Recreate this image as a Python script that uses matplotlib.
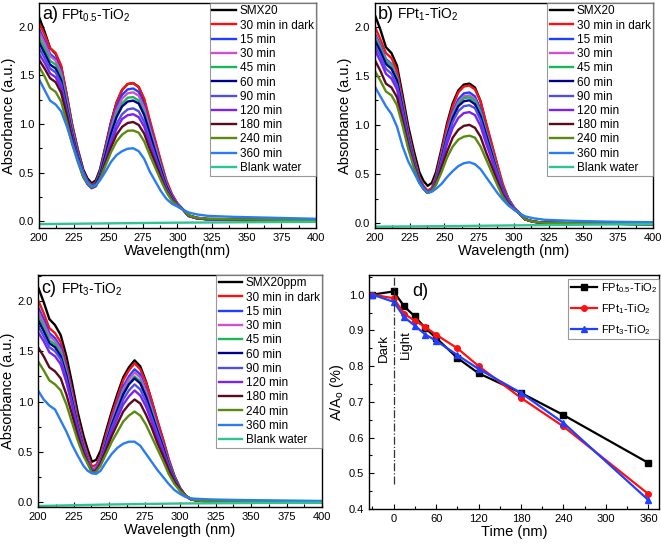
import numpy as np
import matplotlib
matplotlib.use("Agg")
from matplotlib import pyplot as plt
from matplotlib.ticker import MultipleLocator

plt.rcParams['font.family'] = ['Liberation Sans', 'DejaVu Sans']
plt.rcParams['mathtext.fontset'] = 'custom'
plt.rcParams['mathtext.rm'] = 'Liberation Sans'
plt.rcParams['mathtext.it'] = 'Liberation Sans:italic'

# ---- data ----
wl = [200, 204, 208, 212, 216, 220, 224, 228, 232, 235, 238, 241, 244, 248, 252, 256, 260,
      264, 268, 272, 276, 280, 284, 288, 292, 296, 300, 304, 308, 314, 322, 340, 370, 400]

labels_ab = ['SMX20', '30 min in dark', '15 min', '30 min', '45 min', '60 min',
             '90 min', '120 min', '180 min', '240 min', '360 min']
labels_c = ['SMX20ppm'] + labels_ab[1:]

abs_a = [
    [2.10, 1.95, 1.78, 1.72, 1.59, 1.30, 0.99, 0.74, 0.53, 0.44, 0.39, 0.42, 0.53, 0.77, 1.02, 1.22, 1.35, 1.41, 1.42, 1.38, 1.24, 1.02, 0.81, 0.60, 0.40, 0.27, 0.18, 0.12, 0.06, 0.035, 0.02, 0.015, 0.01, 0.005],
    [2.04, 1.92, 1.78, 1.73, 1.60, 1.30, 0.98, 0.73, 0.51, 0.42, 0.37, 0.40, 0.51, 0.76, 1.01, 1.22, 1.35, 1.41, 1.42, 1.38, 1.26, 1.04, 0.83, 0.62, 0.42, 0.28, 0.18, 0.12, 0.055, 0.03, 0.02, 0.015, 0.01, 0.005],
    [1.98, 1.86, 1.72, 1.67, 1.54, 1.26, 0.95, 0.71, 0.50, 0.41, 0.36, 0.39, 0.50, 0.73, 0.98, 1.17, 1.30, 1.355, 1.365, 1.33, 1.19, 0.98, 0.78, 0.58, 0.39, 0.26, 0.18, 0.12, 0.055, 0.03, 0.02, 0.015, 0.01, 0.005],
    [1.95, 1.83, 1.70, 1.65, 1.52, 1.24, 0.94, 0.69, 0.49, 0.40, 0.35, 0.38, 0.48, 0.71, 0.95, 1.14, 1.26, 1.315, 1.325, 1.29, 1.16, 0.95, 0.76, 0.56, 0.38, 0.26, 0.18, 0.12, 0.055, 0.03, 0.02, 0.015, 0.01, 0.005],
    [1.89, 1.78, 1.65, 1.61, 1.49, 1.21, 0.92, 0.68, 0.48, 0.40, 0.35, 0.38, 0.48, 0.69, 0.92, 1.10, 1.21, 1.27, 1.276, 1.24, 1.12, 0.92, 0.73, 0.55, 0.37, 0.25, 0.17, 0.12, 0.055, 0.03, 0.02, 0.015, 0.01, 0.005],
    [1.84, 1.73, 1.61, 1.57, 1.45, 1.18, 0.90, 0.67, 0.48, 0.40, 0.35, 0.38, 0.47, 0.68, 0.90, 1.07, 1.18, 1.23, 1.24, 1.21, 1.09, 0.90, 0.71, 0.53, 0.36, 0.25, 0.17, 0.12, 0.055, 0.03, 0.02, 0.015, 0.01, 0.005],
    [1.78, 1.68, 1.57, 1.53, 1.41, 1.15, 0.88, 0.65, 0.47, 0.39, 0.34, 0.36, 0.45, 0.64, 0.84, 1.00, 1.10, 1.15, 1.16, 1.13, 1.02, 0.84, 0.67, 0.50, 0.34, 0.24, 0.17, 0.12, 0.055, 0.03, 0.02, 0.015, 0.01, 0.005],
    [1.72, 1.63, 1.52, 1.48, 1.37, 1.12, 0.85, 0.64, 0.46, 0.38, 0.34, 0.36, 0.44, 0.62, 0.81, 0.95, 1.05, 1.09, 1.10, 1.07, 0.97, 0.80, 0.64, 0.48, 0.33, 0.23, 0.17, 0.12, 0.055, 0.03, 0.02, 0.015, 0.01, 0.005],
    [1.66, 1.57, 1.47, 1.43, 1.32, 1.09, 0.84, 0.63, 0.46, 0.39, 0.35, 0.37, 0.44, 0.60, 0.76, 0.89, 0.97, 1.01, 1.02, 0.99, 0.90, 0.74, 0.60, 0.45, 0.31, 0.22, 0.16, 0.12, 0.06, 0.035, 0.025, 0.02, 0.015, 0.01],
    [1.59, 1.49, 1.37, 1.33, 1.23, 1.02, 0.79, 0.61, 0.45, 0.39, 0.35, 0.37, 0.43, 0.57, 0.71, 0.82, 0.89, 0.93, 0.933, 0.91, 0.82, 0.68, 0.55, 0.42, 0.30, 0.21, 0.16, 0.12, 0.06, 0.035, 0.025, 0.02, 0.015, 0.01],
    [1.46, 1.35, 1.24, 1.20, 1.13, 0.98, 0.80, 0.63, 0.48, 0.40, 0.36, 0.37, 0.42, 0.51, 0.61, 0.68, 0.72, 0.745, 0.75, 0.72, 0.64, 0.51, 0.41, 0.31, 0.23, 0.18, 0.15, 0.12, 0.09, 0.07, 0.055, 0.045, 0.035, 0.025],
]

abs_b = [
    [2.12, 1.97, 1.79, 1.73, 1.60, 1.30, 0.99, 0.74, 0.52, 0.43, 0.38, 0.41, 0.52, 0.76, 1.02, 1.22, 1.35, 1.41, 1.42, 1.38, 1.24, 1.01, 0.80, 0.59, 0.38, 0.25, 0.16, 0.10, 0.04, 0.015, 0.005, 0.0, -0.005, -0.01],
    [2.00, 1.87, 1.73, 1.68, 1.55, 1.25, 0.94, 0.69, 0.47, 0.38, 0.33, 0.36, 0.48, 0.73, 0.99, 1.19, 1.33, 1.39, 1.40, 1.36, 1.24, 1.02, 0.81, 0.60, 0.40, 0.25, 0.16, 0.10, 0.04, 0.015, 0.005, 0.0, -0.005, -0.01],
    [1.93, 1.81, 1.67, 1.62, 1.49, 1.21, 0.90, 0.66, 0.45, 0.36, 0.31, 0.34, 0.45, 0.69, 0.93, 1.13, 1.26, 1.32, 1.33, 1.29, 1.16, 0.95, 0.75, 0.55, 0.36, 0.24, 0.16, 0.10, 0.04, 0.015, 0.005, 0.0, -0.005, -0.01],
    [1.91, 1.79, 1.66, 1.61, 1.48, 1.20, 0.90, 0.65, 0.45, 0.36, 0.31, 0.34, 0.45, 0.68, 0.92, 1.11, 1.23, 1.29, 1.30, 1.26, 1.13, 0.93, 0.74, 0.54, 0.36, 0.24, 0.16, 0.10, 0.04, 0.015, 0.005, 0.0, -0.005, -0.01],
    [1.89, 1.78, 1.65, 1.60, 1.47, 1.19, 0.89, 0.65, 0.45, 0.36, 0.31, 0.34, 0.44, 0.67, 0.90, 1.09, 1.21, 1.27, 1.28, 1.24, 1.12, 0.92, 0.73, 0.54, 0.35, 0.24, 0.15, 0.10, 0.04, 0.015, 0.005, 0.0, -0.005, -0.01],
    [1.86, 1.75, 1.62, 1.57, 1.45, 1.17, 0.88, 0.64, 0.44, 0.36, 0.31, 0.34, 0.44, 0.66, 0.89, 1.07, 1.19, 1.24, 1.25, 1.21, 1.09, 0.90, 0.71, 0.52, 0.35, 0.23, 0.15, 0.10, 0.04, 0.015, 0.005, 0.0, -0.005, -0.01],
    [1.81, 1.70, 1.57, 1.52, 1.40, 1.14, 0.86, 0.63, 0.44, 0.36, 0.31, 0.34, 0.43, 0.64, 0.86, 1.03, 1.14, 1.19, 1.20, 1.17, 1.05, 0.86, 0.68, 0.51, 0.34, 0.23, 0.15, 0.10, 0.04, 0.015, 0.005, 0.0, -0.005, -0.01],
    [1.76, 1.65, 1.52, 1.47, 1.36, 1.10, 0.83, 0.62, 0.43, 0.35, 0.31, 0.33, 0.42, 0.61, 0.81, 0.97, 1.07, 1.12, 1.13, 1.10, 0.99, 0.81, 0.65, 0.48, 0.32, 0.22, 0.15, 0.10, 0.04, 0.015, 0.005, 0.0, -0.005, -0.01],
    [1.66, 1.55, 1.42, 1.38, 1.28, 1.04, 0.79, 0.59, 0.42, 0.35, 0.31, 0.33, 0.40, 0.57, 0.73, 0.87, 0.95, 0.99, 1.00, 0.97, 0.88, 0.72, 0.58, 0.43, 0.29, 0.20, 0.14, 0.10, 0.04, 0.015, 0.005, 0.0, -0.005, -0.01],
    [1.55, 1.45, 1.34, 1.30, 1.20, 0.99, 0.76, 0.57, 0.41, 0.35, 0.31, 0.33, 0.39, 0.52, 0.67, 0.78, 0.85, 0.88, 0.89, 0.87, 0.78, 0.65, 0.52, 0.39, 0.27, 0.19, 0.14, 0.10, 0.04, 0.015, 0.005, 0.0, -0.005, -0.01],
    [1.39, 1.29, 1.19, 1.11, 0.98, 0.78, 0.63, 0.52, 0.41, 0.35, 0.31, 0.32, 0.35, 0.40, 0.47, 0.53, 0.58, 0.61, 0.62, 0.60, 0.55, 0.47, 0.39, 0.31, 0.24, 0.18, 0.14, 0.10, 0.07, 0.05, 0.035, 0.025, 0.015, 0.01],
]

abs_c = [
    [2.14, 1.99, 1.82, 1.76, 1.66, 1.45, 1.18, 0.89, 0.66, 0.52, 0.40, 0.42, 0.51, 0.71, 0.905, 1.08, 1.24, 1.34, 1.41, 1.35, 1.20, 1.01, 0.81, 0.62, 0.42, 0.26, 0.14, 0.06, 0.025, 0.012, 0.006, 0.004, 0.002, 0.0],
    [2.01, 1.88, 1.73, 1.68, 1.59, 1.37, 1.11, 0.83, 0.60, 0.47, 0.35, 0.37, 0.46, 0.67, 0.87, 1.04, 1.21, 1.31, 1.38, 1.32, 1.19, 1.01, 0.81, 0.63, 0.43, 0.26, 0.14, 0.06, 0.025, 0.012, 0.006, 0.004, 0.002, 0.0],
    [1.94, 1.82, 1.68, 1.63, 1.54, 1.33, 1.07, 0.79, 0.57, 0.44, 0.32, 0.34, 0.43, 0.63, 0.82, 0.99, 1.15, 1.25, 1.32, 1.27, 1.12, 0.95, 0.76, 0.58, 0.40, 0.25, 0.13, 0.06, 0.025, 0.012, 0.006, 0.004, 0.002, 0.0],
    [1.90, 1.78, 1.65, 1.60, 1.51, 1.30, 1.05, 0.77, 0.56, 0.43, 0.31, 0.33, 0.42, 0.61, 0.80, 0.97, 1.12, 1.22, 1.29, 1.24, 1.10, 0.93, 0.74, 0.57, 0.39, 0.24, 0.13, 0.06, 0.025, 0.012, 0.006, 0.004, 0.002, 0.0],
    [1.85, 1.74, 1.61, 1.57, 1.48, 1.28, 1.02, 0.76, 0.54, 0.41, 0.30, 0.32, 0.40, 0.59, 0.78, 0.94, 1.09, 1.18, 1.25, 1.20, 1.06, 0.90, 0.72, 0.55, 0.38, 0.24, 0.13, 0.06, 0.025, 0.012, 0.006, 0.004, 0.002, 0.0],
    [1.81, 1.70, 1.58, 1.54, 1.45, 1.26, 1.01, 0.75, 0.54, 0.41, 0.30, 0.32, 0.40, 0.59, 0.77, 0.92, 1.07, 1.17, 1.23, 1.18, 1.05, 0.88, 0.71, 0.55, 0.37, 0.23, 0.13, 0.06, 0.025, 0.012, 0.006, 0.004, 0.002, 0.0],
    [1.75, 1.65, 1.54, 1.50, 1.42, 1.22, 0.98, 0.73, 0.53, 0.41, 0.30, 0.32, 0.40, 0.57, 0.74, 0.88, 1.02, 1.11, 1.17, 1.12, 1.00, 0.84, 0.68, 0.52, 0.36, 0.22, 0.13, 0.06, 0.025, 0.012, 0.006, 0.004, 0.002, 0.0],
    [1.69, 1.60, 1.49, 1.45, 1.37, 1.19, 0.96, 0.71, 0.52, 0.40, 0.30, 0.32, 0.39, 0.55, 0.71, 0.84, 0.97, 1.05, 1.11, 1.06, 0.95, 0.80, 0.64, 0.50, 0.34, 0.22, 0.12, 0.06, 0.025, 0.012, 0.006, 0.004, 0.002, 0.0],
    [1.54, 1.45, 1.34, 1.30, 1.23, 1.07, 0.87, 0.66, 0.49, 0.39, 0.30, 0.31, 0.38, 0.52, 0.66, 0.78, 0.90, 0.97, 1.02, 0.98, 0.87, 0.74, 0.59, 0.46, 0.32, 0.20, 0.12, 0.06, 0.025, 0.012, 0.006, 0.004, 0.002, 0.0],
    [1.40, 1.31, 1.21, 1.17, 1.11, 0.97, 0.79, 0.61, 0.46, 0.38, 0.29, 0.30, 0.36, 0.48, 0.60, 0.70, 0.80, 0.86, 0.90, 0.86, 0.77, 0.65, 0.53, 0.41, 0.28, 0.18, 0.11, 0.06, 0.025, 0.012, 0.006, 0.004, 0.002, 0.0],
    [1.11, 1.02, 0.96, 0.92, 0.81, 0.70, 0.57, 0.46, 0.36, 0.31, 0.285, 0.28, 0.31, 0.40, 0.48, 0.54, 0.58, 0.60, 0.60, 0.56, 0.48, 0.40, 0.32, 0.25, 0.18, 0.12, 0.08, 0.05, 0.035, 0.03, 0.025, 0.02, 0.015, 0.01],
]

wl_blank = [200, 250, 300, 350, 400]
blank_a = [-0.03, -0.022, -0.015, -0.01, -0.006]
blank_b = [-0.035, -0.03, -0.022, -0.015, -0.01]
blank_c = [-0.04, -0.025, -0.015, -0.01, -0.007]

# panel d: relative absorbance vs time
time = [-30, 0, 15, 30, 45, 60, 90, 120, 180, 240, 360]
r_pt05 = [1.0, 1.009, 0.967, 0.939, 0.906, 0.879, 0.823, 0.780, 0.725, 0.663, 0.529]
r_pt1 = [1.0, 0.990, 0.946, 0.927, 0.909, 0.888, 0.850, 0.800, 0.711, 0.631, 0.442]
r_pt3 = [1.0, 0.980, 0.937, 0.913, 0.888, 0.871, 0.831, 0.792, 0.725, 0.641, 0.425]

colors = ['#000000', '#ff1010', '#1f40ff', '#d050d0', '#18b85a', '#000088',
          '#5050e0', '#7b22f0', '#5c0a1e', '#5a8a10', '#2a7cf0']
blank_color = '#2ec48f'


def style_axes(ax):
    for sp in ax.spines.values():
        sp.set_linewidth(1.0)
    ax.tick_params(which='both', direction='in', labelsize=8, width=0.8)
    ax.tick_params(which='major', length=3.5)
    ax.tick_params(which='minor', length=2)


def spectra(ax, rows, labels, blank, ylim, xlabel, tag, name):
    for row, lab, col in zip(rows, labels, colors):
        ax.plot(wl, row, color=col, lw=1.7, label=lab)
    ax.plot(wl_blank, blank, color=blank_color, lw=1.7, label='Blank water')
    ax.set_xlim(200, 400)
    ax.set_ylim(*ylim)
    ax.xaxis.set_major_locator(MultipleLocator(25))
    ax.xaxis.set_minor_locator(MultipleLocator(12.5))
    ax.yaxis.set_major_locator(MultipleLocator(0.5))
    ax.yaxis.set_minor_locator(MultipleLocator(0.25))
    ax.set_xlabel(xlabel, fontsize=10.5, labelpad=1)
    ax.set_ylabel('Absorbance (a.u.)', fontsize=10.5, labelpad=2)
    style_axes(ax)
    ax.text(202, 2.12, tag, fontsize=13, va='center', ha='left')
    ax.text(216, 2.12, name, fontsize=10, va='center', ha='left')
    leg = ax.legend(loc='upper right', fontsize=8.5, frameon=True, fancybox=False,
                    edgecolor='#808080', borderaxespad=0, handlelength=2.0,
                    handletextpad=0.3, labelspacing=0.19, borderpad=0.2)
    leg.get_frame().set_linewidth(0.8)


fig = plt.figure(figsize=(6.61, 5.44), dpi=100)
ax_a = fig.add_axes([0.059, 0.581, 0.419, 0.4136])
ax_b = fig.add_axes([0.567, 0.581, 0.421, 0.4136])
ax_c = fig.add_axes([0.0575, 0.068, 0.4297, 0.4265])
ax_d = fig.add_axes([0.558, 0.0643, 0.439, 0.4302])

spectra(ax_a, abs_a, labels_ab, blank_a, (-0.069, 2.244), 'Wavelength(nm)', 'a)',
        r'FPt$_{0.5}$-TiO$_2$')
spectra(ax_b, abs_b, labels_ab, blank_b, (-0.048, 2.24), 'Wavelength (nm)', 'b)',
        r'FPt$_{1}$-TiO$_2$')
spectra(ax_c, abs_c, labels_c, blank_c, (-0.05, 2.259), 'Wavelength (nm)', 'c)',
        r'FPt$_{3}$-TiO$_2$')

# panel d
ax_d.plot(time, r_pt05, color='black', marker='s', ms=4, lw=1.6, label=r'FPt$_{0.5}$-TiO$_2$')
ax_d.plot(time, r_pt1, color='#ff1010', marker='o', ms=4, lw=1.6, label=r'FPt$_{1}$-TiO$_2$')
ax_d.plot(time, r_pt3, color='#2040ff', marker='^', ms=4, lw=1.6, label=r'FPt$_{3}$-TiO$_2$')
ax_d.plot([0, 0], [0.47, 1.05], color='#333333', lw=0.9, ls='-.')
ax_d.set_xlim(-35, 375)
ax_d.set_ylim(0.4, 1.055)
ax_d.xaxis.set_major_locator(MultipleLocator(60))
ax_d.xaxis.set_minor_locator(MultipleLocator(30))
ax_d.yaxis.set_major_locator(MultipleLocator(0.1))
ax_d.yaxis.set_minor_locator(MultipleLocator(0.05))
ax_d.set_xlabel('Time (nm)', fontsize=10.5, labelpad=1)
ax_d.set_ylabel(r'A/A$_\mathregular{o}$ (%)', fontsize=10.5, labelpad=2)
style_axes(ax_d)
ax_d.text(-14, 0.85, 'Dark', rotation=90, fontsize=9.5, ha='center', va='center')
ax_d.text(17, 0.86, 'Light', rotation=90, fontsize=9.5, ha='center', va='center')
ax_d.text(27, 1.01, 'd)', fontsize=13, ha='left', va='center')
leg = ax_d.legend(loc='upper right', bbox_to_anchor=(1.0, 0.983), fontsize=8,
                  frameon=True, fancybox=False, edgecolor='#808080', borderaxespad=0,
                  handlelength=2.4, handletextpad=0.3, labelspacing=0.65, borderpad=0.2)
leg.get_frame().set_linewidth(0.8)

fig.savefig('out.png', dpi=100)
